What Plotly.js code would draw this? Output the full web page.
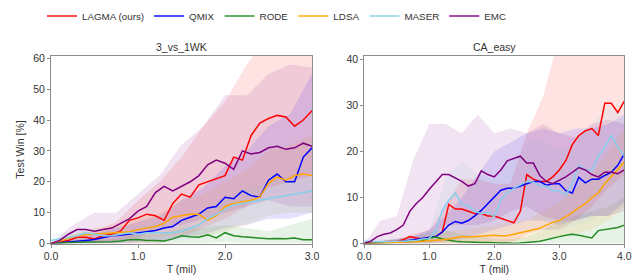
<!DOCTYPE html>
<html>
<head>
<meta charset="utf-8">
<script src="https://cdn.plot.ly/plotly-3.0.1.min.js"></script>
<style>html,body{margin:0;padding:0;background:#fff;}#chart{width:635px;height:275px;}</style>
</head>
<body>
<div id="chart"></div>
<script>
// ---------- data ----------
const methods = ["LAGMA (ours)", "QMIX", "RODE", "LDSA", "MASER", "EMC"];
const panelTitles = ["3_vs_1WK", "CA_easy"];

// left panel: 3_vs_1WK, T in millions
const tL = [0.0,0.1,0.2,0.3,0.4,0.5,0.6,0.7,0.8,0.9,1.0,1.1,1.2,1.3,1.4,1.5,1.6,1.7,1.8,1.9,2.0,2.1,2.2,2.3,2.4,2.5,2.6,2.7,2.8,2.9,3.0];
const lagmaL = [0,0.5,1,2,2,1.5,2.5,3,4,7.5,8.3,9.5,9,7.5,13,16,15,19,20,21,22,28,27,35,39,40.5,41.5,41,38,40,43];
const qmixL  = [0,0.2,0.5,0.7,1,1.3,1.8,2.5,2.7,3,3.5,3.8,4.2,5,5.5,7.5,8.5,9.5,11.5,12,15,14.5,17,15.5,15,20.5,22.5,20,20,28,31];
const rodeL  = [0,0.2,0.3,0.4,0.5,0.5,0.5,0.6,0.8,1.2,1.3,1.0,1.0,0.8,1.5,2.5,2.2,2.0,2.8,1.8,3.5,2.5,2.2,2.0,1.8,1.5,1.6,1.5,1.8,1.2,1.2];
const ldsaL  = [0,0.8,1.5,2.5,2.8,3,3,3.2,3.5,3.8,4.5,5,5.5,6.5,8.5,9,9.5,9.5,7.5,9,12,13,13.5,14,15,19.5,21.5,20.5,22,22.5,22];
const maserL = [1,1.5,2,2.5,3.5,3,2.5,2.5,3,3.5,3,3.5,3.5,3.5,3.5,4,5,6,8,9.5,11,12.5,13,13.5,14,14.5,15,15.5,16,16.5,17];
const emcL   = [0,1,3,4.5,4.5,4,4.5,5,6.5,8,10.5,12,16.5,18.5,17,18.5,20,22,25.5,27,26,24,30,29,29.5,31,31.5,30.5,31,32.5,31.5];

const bL = [0,0.25,0.5,0.75,1.0,1.25,1.5,1.75,2.0,2.25,2.5,2.75,3.0];
const lagmaL_hi = [0,2,4,7,14,20,28,38,46,58,68,68,66];
const lagmaL_lo = [0,0,0,0,0,0,2,5,8,12,18,20,22];
const qmixL_hi  = [0,1.5,3,5,7,9,14,18,25,30,38,42,55];
const qmixL_lo  = [0,0,0,0,0.5,1,2,3,5,6,8,8,10];
const rodeL_hi  = [0.5,1,1,1.5,3,3,5,5,6,5,4,6,8];
const rodeL_lo  = [0,0,0,0,0,0,0,0,0.5,0,0,0,0];
const ldsaL_hi  = [0,3,5,6,8,10,14,16,20,24,30,32,35];
const ldsaL_lo  = [0,0,0.5,1,1.5,2,3,2,4,6,9,10,10];
const maserL_hi = [3,4,5,5,6,7,8,10,15,18,20,22,25];
const maserL_lo = [0,0.5,1,1,1,1,1,2,4,7,9,10,10];
const emcL_hi   = [0,6,10,10,16,22,32,38,48,48,55,58,57];
const emcL_lo   = [0,0,0,1,2,5,6,8,10,12,14,12,12];

// right panel: CA_easy
const tR = [0.0,0.1,0.2,0.3,0.4,0.5,0.6,0.7,0.8,0.9,1.0,1.1,1.2,1.3,1.4,1.5,1.6,1.7,1.8,1.9,2.0,2.1,2.2,2.3,2.4,2.5,2.6,2.7,2.8,2.9,3.0,3.1,3.2,3.3,3.4,3.5,3.6,3.7,3.8,3.9,4.0];
const lagmaR = [0,0.2,0.3,0.4,0.5,0.5,0.8,1.5,1.2,1.0,1.3,1.5,2.5,8.5,7.5,7.5,7,6.5,6.5,6,6,5.5,5,4.5,7,15,14,13.5,13.5,14.5,16,18,21.5,23.5,24.5,25,23.5,30.5,30.5,28.5,31];
const qmixR  = [0,0.1,0.2,0.2,0.3,0.3,0.5,0.6,0.8,1,1.3,1.5,2.5,4,4.8,4.4,5,6,7.2,8.7,10,11.6,12,12,12.5,13,13.5,13.5,12.7,13,13,11.5,11,14.4,13.2,14,14,14.8,15.5,17,19.5];
const rodeR  = [0,0.1,0.1,0.2,0.2,0.3,0.3,0.4,0.5,0.6,1.2,1.4,1.0,0.7,0.5,0.4,0.3,0.3,0.2,0.2,0.1,0.1,0.1,0,0.1,0.2,0.3,0.5,0.8,1.2,1.5,1.8,2.0,1.8,1.5,1.2,2.8,3,3.2,3.5,4];
const ldsaR  = [0,0,0.1,0.1,0.2,0.2,0.3,0.3,0.4,0.5,0.5,0.7,0.8,1,1.3,1.5,1.4,1.5,1.6,1.8,1.8,1.7,1.7,2,2.3,2.6,3,3.3,4,4.6,5,5.8,6.7,7.8,8.6,10,11,13,14.5,16,17.7];
const maserR = [0.5,0.4,0.4,0.4,0.5,0.5,0.5,0.6,0.7,1,1.1,2.9,7.2,9.4,11,8.5,8.2,7,6.5,6.8,5.8,9.5,11,12,12.7,13.5,13.4,12.5,12.5,11.5,11.5,10.5,13,17,16,16,19,21,23.5,21,19];
const emcR   = [0,0.5,1.5,2,2.3,3,4,7,8.7,10,11.8,13.5,15,15,14.2,13.5,12.5,13,15.8,15,14.5,16,18,18.5,19,17.5,17.5,14.8,13.5,13,13.7,14.5,15.5,16.5,16,15,14.5,15.5,15.5,15.2,16];

const bR = [0,0.25,0.5,0.75,1.0,1.25,1.5,1.75,2.0,2.25,2.5,2.75,3.0,3.25,3.5,3.75,4.0];
const lagmaR_hi = [0,0.5,1,2,3,8,14,14,13,13,24,32,45,50,50,50,50];
const lagmaR_lo = [0,0,0,0,0,0,0,0,0,0,2,3,3,5,8,12,15];
const qmixR_hi  = [0,0.5,1,1.5,3,6,10,15,20,22,24,25,24,25,25,26,28];
const qmixR_lo  = [0,0,0,0,0,0.5,1,2,3,4,5,5,4,5,6,6,9];
const rodeR_hi  = [0,0.5,1,1.5,2.5,3,2,1.5,1,1,1.5,3,5,6,7,8,10];
const rodeR_lo  = [0,0,0,0,0,0,0,0,0,0,0,0,0,0,0,0,0];
const ldsaR_hi  = [0,0.3,0.5,1,1.5,2.5,3,3.5,4,4.5,5,7,9,12,15,20,25];
const ldsaR_lo  = [0,0,0,0,0,0,0,0.2,0.3,0.5,0.5,1,1.5,2,3,5,8];
const maserR_hi = [1,1,1,1.5,3,14,18,15,14,18,22,22,20,22,26,30,28];
const maserR_lo = [0,0,0,0,0,1,1,1,1,2,3,3,3,4,5,8,8];
const emcR_hi   = [0,5,6,18,26,26,24,28,24,25,24,26,24,23,26,27,26];
const emcR_lo   = [0,0,0,0,1,4,4,4,5,7,8,6,5,5,6,6,7];

// ---------- styling ----------
const colors = ["rgb(255,0,0)", "rgb(0,0,255)", "rgb(34,139,34)", "rgb(255,165,0)", "rgb(135,206,235)", "rgb(128,0,128)"];
function rgba(c, a) { return c.replace("rgb(", "rgba(").replace(")", "," + a + ")"); }

const panels = [
  {t: tL, b: bL, means: [lagmaL, qmixL, rodeL, ldsaL, maserL, emcL],
   hi: [lagmaL_hi, qmixL_hi, rodeL_hi, ldsaL_hi, maserL_hi, emcL_hi],
   lo: [lagmaL_lo, qmixL_lo, rodeL_lo, ldsaL_lo, maserL_lo, emcL_lo], xa: "x", ya: "y"},
  {t: tR, b: bR, means: [lagmaR, qmixR, rodeR, ldsaR, maserR, emcR],
   hi: [lagmaR_hi, qmixR_hi, rodeR_hi, ldsaR_hi, maserR_hi, emcR_hi],
   lo: [lagmaR_lo, qmixR_lo, rodeR_lo, ldsaR_lo, maserR_lo, emcR_lo], xa: "x2", ya: "y2"}
];

const traces = [];
panels.forEach(p => {
  methods.forEach((m, i) => {
    traces.push({
      x: p.b.concat(p.b.slice().reverse()),
      y: p.hi[i].concat(p.lo[i].slice().reverse()),
      xaxis: p.xa, yaxis: p.ya, type: "scatter", mode: "lines",
      fill: "toself", fillcolor: rgba(colors[i], 0.11), line: {width: 0, color: "rgba(0,0,0,0)"},
      hoverinfo: "skip", showlegend: false
    });
  });
});
panels.forEach(p => {
  methods.forEach((m, i) => {
    traces.push({
      x: p.t, y: p.means[i], xaxis: p.xa, yaxis: p.ya, type: "scatter", mode: "lines",
      line: {color: colors[i], width: 1.5}, name: m, showlegend: false
    });
  });
});
methods.forEach((m, i) => {
  traces.push({x: [null], y: [null], type: "scatter", mode: "lines", name: m,
    line: {color: rgba(colors[i], 0.7), width: 2}, showlegend: true, xaxis: "x", yaxis: "y"});
});

const axisCommon = {
  showgrid: false, zeroline: false, showline: true, mirror: true, linecolor: "#8c8c8c", linewidth: 1,
  ticks: "outside", ticklen: 3, tickcolor: "#8c8c8c", tickfont: {size: 10.5, color: "#333"}
};
const W = 635, H = 275;
const yDom = [1 - 243.5 / H, 1 - 55.5 / H];

const layout = {
  width: W, height: H, margin: {l: 0, r: 0, t: 0, b: 0},
  paper_bgcolor: "#fff", plot_bgcolor: "#fff",
  font: {family: "Liberation Sans, Arial, sans-serif", size: 10.5, color: "#333"},
  showlegend: true,
  legend: {orientation: "h", x: 42 / W, xanchor: "left", y: 1 - 16 / H, yanchor: "middle",
           font: {size: 9.8, color: "#333"}, bgcolor: "rgba(0,0,0,0)"},
  xaxis: Object.assign({}, axisCommon, {domain: [51 / W, 312 / W], range: [0, 3.0], tickvals: [0, 1, 2, 3], tickformat: ".1f",
          title: {text: "T (mil)", font: {size: 10.5}, standoff: 4}, anchor: "y"}),
  yaxis: Object.assign({}, axisCommon, {domain: yDom, range: [0, 60.9], tickvals: [0, 10, 20, 30, 40, 50, 60],
          title: {text: "Test Win [%]", font: {size: 10.5}, standoff: 6}, anchor: "x"}),
  xaxis2: Object.assign({}, axisCommon, {domain: [364.3 / W, 624.3 / W], range: [0, 4.0], tickvals: [0, 1, 2, 3, 4], tickformat: ".1f",
          title: {text: "T (mil)", font: {size: 10.5}, standoff: 4}, anchor: "y2"}),
  yaxis2: Object.assign({}, axisCommon, {domain: yDom, range: [0, 40.9], tickvals: [0, 10, 20, 30, 40], anchor: "x2"}),
  annotations: [
    {text: panelTitles[0], xref: "paper", yref: "paper", x: 181.5 / W, y: 1 - 47 / H, xanchor: "center", yanchor: "middle",
     showarrow: false, font: {size: 10.5, color: "#333"}},
    {text: panelTitles[1], xref: "paper", yref: "paper", x: 494.3 / W, y: 1 - 47 / H, xanchor: "center", yanchor: "middle",
     showarrow: false, font: {size: 10.5, color: "#333"}}
  ]
};

Plotly.newPlot("chart", traces, layout, {displayModeBar: false, staticPlot: true});
</script>
</body>
</html>
